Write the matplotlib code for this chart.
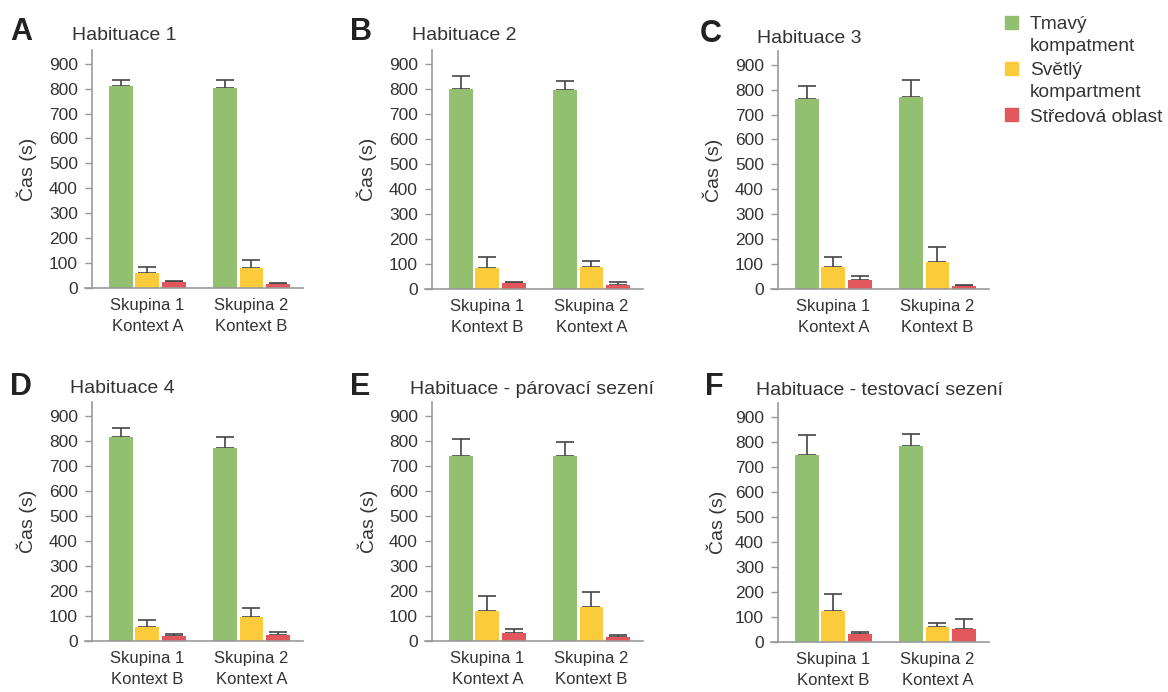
import numpy as np
import matplotlib
matplotlib.use("Agg")
import matplotlib.pyplot as plt
from matplotlib.patches import Rectangle

plt.rcParams['font.family'] = ['Liberation Sans', 'DejaVu Sans']

# data (mean and upper error, seconds)
letters = ['A', 'B', 'C', 'D', 'E', 'F']
titles = ['Habituace 1', 'Habituace 2', 'Habituace 3', 'Habituace 4',
          'Habituace - párovací sezení', 'Habituace - testovací sezení']
contexts = [['A', 'B'], ['B', 'A'], ['A', 'B'], ['B', 'A'], ['A', 'B'], ['B', 'A']]

tmavy = [[811, 803], [799, 795], [762, 772], [815, 773], [738, 739], [747, 785]]
tmavy_err = [[24, 32], [51, 35], [54, 66], [38, 41], [70, 55], [82, 46]]
svetly = [[60, 79], [83, 87], [90, 109], [55, 96], [118, 137], [122, 60]]
svetly_err = [[24, 32], [45, 24], [38, 59], [29, 35], [61, 57], [70, 17]]
stred = [[24, 15], [24, 17], [36, 12], [20, 24], [31, 17], [31, 50]]
stred_err = [[5, 4], [4, 10], [16, 4], [8, 12], [15, 7], [7, 43]]

series_names = ['Tmavý\nkompatment', 'Světlý\nkompartment', 'Středová oblast']
colors = ['#92C070', '#FBCB3B', '#E2575B']

W, H = 1168, 692
fig = plt.figure(figsize=(W / 100, H / 100), dpi=100)
text_col = '#333333'
spine_col = '#999999'

# axes boxes in pixels: left, right, top, bottom
boxes = [(85, 303, 50, 288), (425, 643, 50, 289), (771, 989, 51, 289),
         (85, 303, 402, 641), (425, 643, 402, 641), (771, 989, 403, 642)]
ylabel_off = [-48, -48, -48, -48, -47, -44]
letter_pos = [(10, 40), (350, 40), (700, 42), (10, 395), (350, 395), (705, 395)]
title_pos = [(72, 40), (412, 40), (757, 43), (70, 393), (410, 394), (756, 395)]

x = np.arange(2)
step = 0.255
width = 0.23

for i in range(6):
    l, r, t, b = boxes[i]
    ax = fig.add_axes([l / W, 1 - b / H, (r - l) / W, (b - t) / H])
    groups = [(tmavy[i], tmavy_err[i]), (svetly[i], svetly_err[i]), (stred[i], stred_err[i])]
    for k, (vals, err) in enumerate(groups):
        pos = x + (k - 1) * step
        ax.bar(pos, vals, width, color=colors[k], zorder=2)
        ax.errorbar(pos, vals, yerr=[np.zeros(2), err], fmt='none', ecolor='#444444',
                    elinewidth=1.2, capsize=6.8, capthick=1.2, zorder=1)
    ax.set_xlim(-0.6, 1.495)
    ax.set_ylim(0, 955)
    ax.set_yticks(range(0, 1000, 100))
    ax.set_xticks(x)
    ax.set_xticklabels(['Skupina 1\nKontext ' + contexts[i][0], 'Skupina 2\nKontext ' + contexts[i][1]],
                       linespacing=1.5)
    ax.tick_params(axis='x', length=0, pad=7, labelsize=12, labelcolor=text_col)
    ax.tick_params(axis='y', length=5, width=1, color=spine_col, pad=5, labelsize=12.5,
                   labelcolor=text_col)
    for s in ['top', 'right']:
        ax.spines[s].set_visible(False)
    for s in ['left', 'bottom']:
        ax.spines[s].set_color(spine_col)
        ax.spines[s].set_linewidth(1.2)
    # left spine sits a tick length inside the x axis line
    ax.spines['left'].set_position(('data', -0.534))
    ax.set_ylabel('Čas (s)', fontsize=14, color=text_col)
    ax.yaxis.set_label_coords(ylabel_off[i] / (r - l), 0.5)

    lx, ly = letter_pos[i]
    fig.text(lx / W, 1 - ly / H, letters[i], fontsize=22, fontweight='bold', color='#222222',
             va='baseline', ha='left')
    tx, ty = title_pos[i]
    fig.text(tx / W, 1 - ty / H, titles[i], fontsize=14, color=text_col, va='baseline', ha='left')

# legend drawn by hand (square aligned with the first text line)
square_top = [16, 62, 108]
line_base = [[29, 51], [75, 97], [122]]
for k, name in enumerate(series_names):
    y0 = square_top[k]
    fig.add_artist(Rectangle((1005 / W, 1 - (y0 + 13) / H), 13 / W, 13 / H, color=colors[k],
                             transform=fig.transFigure))
    for line, yb in zip(name.split('\n'), line_base[k]):
        fig.text(1030 / W, 1 - yb / H, line, fontsize=13.8, color=text_col, va='baseline', ha='left')

fig.savefig('out.png', dpi=100)
